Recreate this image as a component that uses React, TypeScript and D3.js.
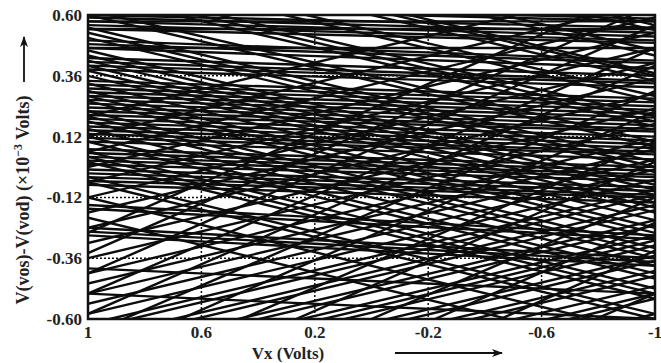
import React from "react";
import * as d3 from "d3";

const xTicks = [1, 0.6, 0.2, -0.2, -0.6, -1];
const yTicks = [0.6, 0.36, 0.12, -0.12, -0.36, -0.6];
const xTickLabels = ["1", "0.6", "0.2", "-0.2", "-0.6", "-1"];
const yTickLabels = ["0.60", "0.36", "0.12", "-0.12", "-0.36", "-0.60"];

// nearly flat lines: value at Vx=1 and at Vx=-1
const flatStart = [0.66, 0.645, 0.63, 0.6, 0.59, 0.575, 0.56, 0.545, 0.5, 0.485, 0.47, 0.43, 0.415, 0.4, 0.385,
  0.34, 0.325, 0.31, 0.295, 0.28, 0.265, 0.25, 0.235, 0.22, 0.205, 0.19, 0.175, 0.16, 0.145, 0.13, 0.115, 0.1,
  0.07, 0.055, 0.04, 0.025, 0.01, -0.01, -0.025, -0.04, -0.055, -0.07, -0.15, -0.165, -0.24, -0.255, -0.27,
  -0.4, -0.5, 0.575, 0.545, 0.47];
const flatEnd = [0.6, 0.585, 0.575, 0.55, 0.53, 0.515, 0.5, 0.49, 0.42, 0.41, 0.39, 0.36, 0.34, 0.33, 0.315,
  0.27, 0.255, 0.24, 0.225, 0.21, 0.195, 0.18, 0.165, 0.15, 0.14, 0.12, 0.105, 0.09, 0.075, 0.06, 0.05, 0.03,
  0.0, -0.015, -0.03, -0.04, -0.055, -0.08, -0.095, -0.11, -0.12, -0.14, -0.27, -0.285, -0.36, -0.375, -0.39,
  -0.5, -0.6, 0.575, 0.545, 0.47];

// falling lines
const fallStart = [1.2, 1.18, 1.08, 1.06, 0.98, 0.96, 0.9, 0.88, 0.86, 0.8, 0.78, 0.72, 0.7, 0.68, 0.62, 0.6, 0.55, 0.53, 0.51,
  0.46, 0.44, 0.42, 0.4, 0.38, 0.36, 0.33, 0.3, 0.28, 0.26, 0.22, 0.2, 0.18, 0.15, 0.12, 0.1, 0.06, 0.04, 0.02, -0.04, -0.06, -0.12, -0.2];
const fallEnd = [0.68, 0.66, 0.56, 0.54, 0.46, 0.44, 0.37, 0.36, 0.34, 0.28, 0.26, 0.2, 0.18, 0.16, 0.1, 0.08, 0.02, 0.0, -0.02,
  -0.07, -0.09, -0.11, -0.14, -0.16, -0.18, -0.21, -0.24, -0.26, -0.28, -0.32, -0.34, -0.36, -0.39, -0.42, -0.44, -0.48, -0.5, -0.52, -0.58, -0.6, -0.66, -0.74];

// rising lines
const riseStart = [-1.25, -1.2, -1.18, -1.12, -1.1, -1.05, -1.03, -1.0, -0.96, -0.94, -0.9, -0.88, -0.84, -0.82, -0.8, -0.76, -0.74, -0.7,
  -0.68, -0.64, -0.62, -0.58, -0.54, -0.5, -0.46, -0.42, -0.36, -0.3, -0.24, -0.18, -0.12, -0.06, 0.0, 0.06, 0.12, 0.2];
const riseEnd = [-0.72, -0.68, -0.66, -0.6, -0.58, -0.52, -0.5, -0.47, -0.43, -0.41, -0.37, -0.35, -0.31, -0.29, -0.27, -0.23, -0.21, -0.17,
  -0.15, -0.11, -0.09, -0.05, -0.01, 0.03, 0.07, 0.11, 0.17, 0.23, 0.29, 0.35, 0.41, 0.47, 0.53, 0.59, 0.65, 0.73];

// steep rising lines
const steepStart = [-1.6, -1.45, -1.32, -1.2, -1.08, -0.96, -0.86, -0.76, -0.66, -0.58, -0.5, -0.42, -0.34, -0.26];
const steepEnd = [-0.62, -0.5, -0.33, -0.22, -0.12, 0.02, 0.1, 0.22, 0.3, 0.4, 0.47, 0.56, 0.64, 0.72];

const W = 661;
const H = 363;
const M = { left: 88, right: 655, top: 15, bottom: 319 };

export default function App() {
  const x = d3.scaleLinear().domain([1, -1]).range([M.left, M.right]);
  const y = d3.scaleLinear().domain([-0.6, 0.6]).range([M.bottom, M.top]);
  const line = d3.line<[number, number]>().x((d) => x(d[0])).y((d) => y(d[1]));

  const families: [number[], number[]][] = [
    [flatStart, flatEnd],
    [fallStart, fallEnd],
    [riseStart, riseEnd],
    [steepStart, steepEnd],
  ];

  const font = "'Liberation Serif', 'Times New Roman', serif";

  return (
    <svg width={W} height={H} style={{ position: "absolute", left: 0, top: 0, background: "#fff" }}>
      <defs>
        <clipPath id="plot">
          <rect x={M.left} y={M.top} width={M.right - M.left} height={M.bottom - M.top} />
        </clipPath>
        <marker id="ah" markerWidth="11" markerHeight="8" refX="10" refY="4" orient="auto" markerUnits="userSpaceOnUse">
          <path d="M0,0 L11,4 L0,8 L3,4 Z" fill="#111" />
        </marker>
      </defs>
      <g clipPath="url(#plot)">
        {xTicks.slice(1, -1).map((t) => (
          <line key={"gx" + t} x1={x(t)} x2={x(t)} y1={M.top} y2={M.bottom} stroke="#111" strokeWidth={1.5} strokeDasharray="2,2" />
        ))}
        {yTicks.slice(1, -1).map((t) => (
          <line key={"gy" + t} x1={M.left} x2={M.right} y1={y(t)} y2={y(t)} stroke="#111" strokeWidth={1.5} strokeDasharray="2,2" />
        ))}
        {families.map(([s, e], fi) =>
          s.map((v, i) => (
            <path key={fi + "-" + i} d={line([[1, v], [-1, e[i]]]) || ""} stroke="#0c0c0c" strokeWidth={2.4} fill="none" />
          ))
        )}
      </g>
      <rect x={M.left} y={M.top} width={M.right - M.left} height={M.bottom - M.top} fill="none" stroke="#111" strokeWidth={2.5} />
      {yTicks.map((t, i) => (
        <text key={"yl" + t} x={M.left - 6} y={y(t) + 6} textAnchor="end" fontFamily={font} fontWeight="bold" fontSize={17} fill="#222">
          {yTickLabels[i]}
        </text>
      ))}
      {xTicks.map((t, i) => (
        <text key={"xl" + t} x={x(t)} y={M.bottom + 19} textAnchor="middle" fontFamily={font} fontWeight="bold" fontSize={17} fill="#222">
          {xTickLabels[i]}
        </text>
      ))}
      <text x={288} y={359} textAnchor="middle" fontFamily={font} fontWeight="bold" fontSize={17} fill="#222">
        Vx (Volts)
      </text>
      <line x1={395} y1={353} x2={502} y2={353} stroke="#111" strokeWidth={1.8} markerEnd="url(#ah)" />
      <text transform="translate(29,200) rotate(-90)" textAnchor="middle" fontFamily={font} fontWeight="bold" fontSize={18} fill="#222">
        V(vos)-V(vod) (×10<tspan dy={-7} fontSize={12}>−3</tspan><tspan dy={7}> Volts)</tspan>
      </text>
      <line x1={24} y1={82} x2={24} y2={37} stroke="#111" strokeWidth={1.8} markerEnd="url(#ah)" />
    </svg>
  );
}
